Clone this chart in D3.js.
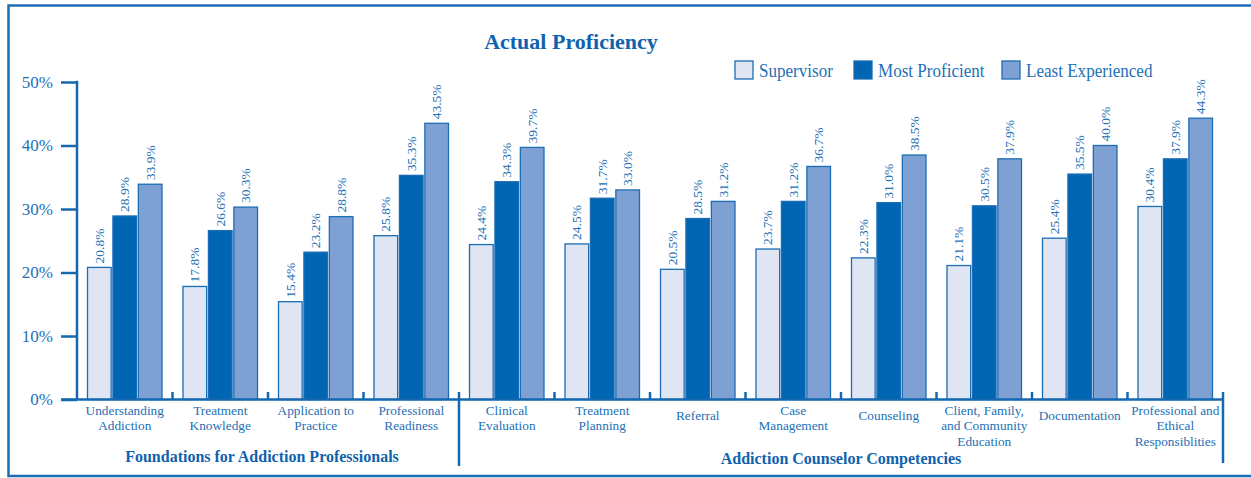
<!DOCTYPE html>
<html>
<head>
<meta charset="utf-8">
<script src="https://cdn.jsdelivr.net/npm/d3@7"></script>
<style>
  body { margin: 0; background: #fff; }
  svg { display: block; font-family: "Liberation Serif", "DejaVu Serif", serif; }
</style>
</head>
<body>
<svg id="chart"></svg>
<script>
// data
const categories = [
  ["Understanding", "Addiction"],
  ["Treatment", "Knowledge"],
  ["Application to", "Practice"],
  ["Professional", "Readiness"],
  ["Clinical", "Evaluation"],
  ["Treatment", "Planning"],
  ["Referral"],
  ["Case", "Management"],
  ["Counseling"],
  ["Client, Family,", "and Community", "Education"],
  ["Documentation"],
  ["Professional and", "Ethical", "Responsiblities"]
];
const seriesNames = ["Supervisor", "Most Proficient", "Least Experienced"];
const supervisor = [20.8, 17.8, 15.4, 25.8, 24.4, 24.5, 20.5, 23.7, 22.3, 21.1, 25.4, 30.4];
const mostProficient = [28.9, 26.6, 23.2, 35.3, 34.3, 31.7, 28.5, 31.2, 31.0, 30.5, 35.5, 37.9];
const leastExperienced = [33.9, 30.3, 28.8, 43.5, 39.7, 33.0, 31.2, 36.7, 38.5, 37.9, 40.0, 44.3];
const groups = [
  {name: "Foundations for Addiction Professionals", from: 0, to: 3},
  {name: "Addiction Counselor Competencies", from: 4, to: 11}
];
const yTicks = [0, 10, 20, 30, 40, 50];

const W = 1251, H = 478;
const blue = "#1468b1";
const textBlue = "#2270b6";
const fills = ["#dfe5f3", "#0066b3", "#7fa0d3"];
const seriesValues = [supervisor, mostProficient, leastExperienced];

const svg = d3.select("#chart").attr("width", W).attr("height", H);

// outer frame
svg.append("rect")
  .attr("x", 8.5).attr("y", 5.5)
  .attr("width", 1255).attr("height", 470.5)
  .attr("fill", "none").attr("stroke", "#1b6db5").attr("stroke-width", 2.5);

const keys = categories.map((c, i) => i);
const x0 = d3.scaleBand().domain(keys).range([77, 1223]).padding(0);
const x1 = d3.scaleBand().domain(seriesNames)
  .range([10.5, x0.bandwidth() - 10.5]).paddingInner(0.07);
const y = d3.scaleLinear().domain([0, 50]).range([399.5, 82]);

const data = keys.map(i => ({
  i: i,
  values: seriesNames.map((s, k) => ({series: s, k: k, value: seriesValues[k][i]}))
}));

// bars
const cat = svg.append("g").selectAll("g")
  .data(data).join("g")
  .attr("transform", d => `translate(${x0(d.i)},0)`);

cat.selectAll("rect")
  .data(d => d.values).join("rect")
  .attr("x", d => x1(d.series))
  .attr("y", d => y(d.value))
  .attr("width", x1.bandwidth())
  .attr("height", d => y(0) - y(d.value))
  .attr("fill", d => fills[d.k])
  .attr("stroke", "#1b6db5")
  .attr("stroke-width", 1.3);

cat.selectAll("text.val")
  .data(d => d.values).join("text")
  .attr("class", "val")
  .attr("transform", d => `translate(${x1(d.series) + x1.bandwidth() / 2 + 4.5},${y(d.value) - 4}) rotate(-90)`)
  .attr("fill", textBlue)
  .style("font-size", "13.5px")
  .text(d => d.value.toFixed(1) + "%");

// y axis
const yAxis = d3.axisLeft(y).tickValues(yTicks).tickSize(16).tickPadding(8)
  .tickFormat(d => d + "%");
const yG = svg.append("g").attr("transform", "translate(77,0)").call(yAxis);
yG.select(".domain").remove();
yG.selectAll(".tick line").attr("stroke", blue).attr("stroke-width", 2.5);
yG.selectAll(".tick text").attr("fill", textBlue)
  .style("font-size", "17px").style("font-family", "Liberation Serif, serif");
svg.append("line")
  .attr("x1", 77).attr("x2", 77).attr("y1", y(50) - 1.2).attr("y2", y(0))
  .attr("stroke", blue).attr("stroke-width", 2.5);

// baseline
svg.append("line")
  .attr("x1", 61).attr("x2", x0.range()[1] + 1).attr("y1", y(0)).attr("y2", y(0))
  .attr("stroke", blue).attr("stroke-width", 2.5);

// small ticks between categories
const bounds = keys.slice(1).map(i => x0(i));
svg.append("g").selectAll("line")
  .data(bounds.filter((b, j) => j + 1 !== groups[1].from)).join("line")
  .attr("x1", d => d).attr("x2", d => d)
  .attr("y1", y(0)).attr("y2", y(0) - 7.5)
  .attr("stroke", blue).attr("stroke-width", 2.5);

// group separators
[x0(groups[1].from), x0.range()[1]].forEach((bx, j) => {
  svg.append("line")
    .attr("x1", bx).attr("x2", bx)
    .attr("y1", y(0) - 7.5).attr("y2", j === 0 ? 466 : 463)
    .attr("stroke", blue).attr("stroke-width", 2.5);
});

// category labels
const labels = svg.append("g").selectAll("text")
  .data(data).join("text")
  .attr("text-anchor", "middle")
  .attr("fill", textBlue)
  .style("font-size", "13.3px")
  .attr("transform", d => `translate(${x0(d.i) + x0.bandwidth() / 2},${categories[d.i].length === 1 ? 419.5 : 415})`);
labels.selectAll("tspan")
  .data(d => categories[d.i]).join("tspan")
  .attr("x", 0)
  .attr("dy", (d, j) => j === 0 ? 0 : 15.3)
  .text(d => d);

// group labels
svg.append("g").selectAll("text")
  .data(groups).join("text")
  .attr("x", (g, j) => j === 0 ? 262 : (x0(g.from) + x0(g.to) + x0.bandwidth()) / 2)
  .attr("y", (g, j) => j === 0 ? 461.5 : 463.5)
  .attr("text-anchor", "middle")
  .attr("fill", "#0f62ad")
  .style("font-size", "16px").style("font-weight", "bold")
  .text(g => g.name);

// title
svg.append("text")
  .attr("x", 571).attr("y", 49)
  .attr("text-anchor", "middle")
  .attr("fill", "#0f62ad")
  .style("font-size", "22px").style("font-weight", "bold")
  .text("Actual Proficiency");

// legend
const legendX = [735, 854, 1002];
const legend = svg.append("g").selectAll("g")
  .data(seriesNames).join("g")
  .attr("transform", (d, k) => `translate(${legendX[k]},61)`);
legend.append("rect")
  .attr("width", 18).attr("height", 18)
  .attr("fill", (d, k) => fills[k])
  .attr("stroke", "#1b6db5").attr("stroke-width", 1.3);
legend.append("text")
  .attr("transform", "translate(24,16) scale(0.875,1)")
  .attr("fill", textBlue)
  .style("font-size", "19.5px")
  .text(d => d);
</script>
</body>
</html>
